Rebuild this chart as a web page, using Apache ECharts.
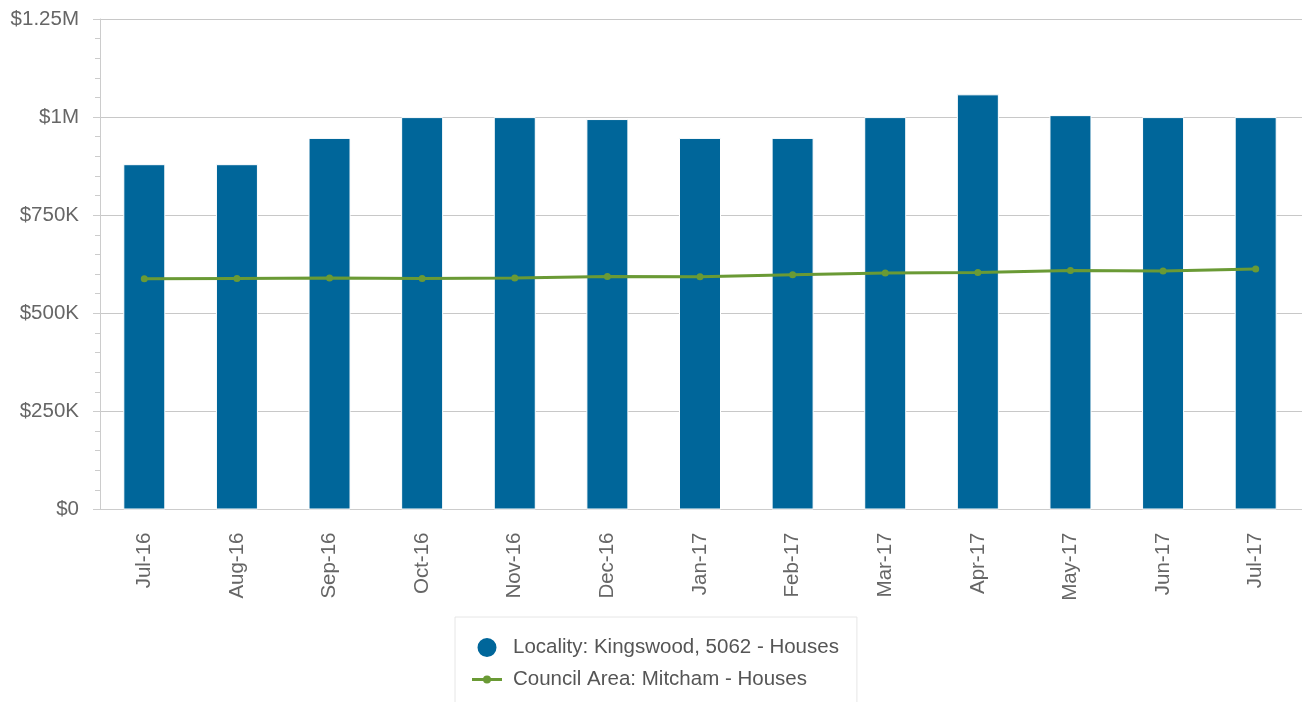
<!DOCTYPE html>
<html>
<head>
<meta charset="utf-8">
<script src="https://cdn.jsdelivr.net/npm/echarts@6/dist/echarts.min.js"></script>
<style>
  html, body { margin: 0; padding: 0; background: #fff; }
  #chart { width: 1302px; height: 702px; }
</style>
</head>
<body>
<div id="chart"></div>
<script>
  // monthly median price data
  var months = ['Jul-16', 'Aug-16', 'Sep-16', 'Oct-16', 'Nov-16', 'Dec-16', 'Jan-17',
    'Feb-17', 'Mar-17', 'Apr-17', 'May-17', 'Jun-17', 'Jul-17']
  var localityPrices = [880000, 880000, 947000, 1000000, 1000000, 995000, 947000,
    947000, 1000000, 1058000, 1005000, 1000000, 1000000]
  var councilPrices = [588000, 589000, 590000, 589000, 590000, 594000, 593000,
    598000, 603000, 604000, 609000, 608000, 613000]
  var localityName = 'Locality: Kingswood, 5062 - Houses'
  var councilName = 'Council Area: Mitcham - Houses'

  var font = 'Liberation Sans, Arial, sans-serif'
  // line with a dot in the middle, for the legend
  var lineIcon = 'path://M0,2.5h12v3h-12z M18,2.5h12v3h-12z M11,4a4,4 0 1 1 8,0a4,4 0 1 1 -8,0z'

  function money (v) {
    if (v === 0) return '$0'
    if (v >= 1000000) return '$' + (v / 1000000) + 'M'
    return '$' + (v / 1000) + 'K'
  }

  var myChart = echarts.init(document.getElementById('chart'))
  myChart.setOption({
    animation: false,
    textStyle: { fontFamily: font },
    grid: { left: 98, top: 19, width: 1207, bottom: 192.5 },
    legend: {
      orient: 'vertical',
      left: 455,
      top: 617,
      height: 60,
      padding: [19, 18, 19, 17],
      borderColor: '#e6e6e6',
      borderWidth: 1,
      itemWidth: 30,
      itemHeight: 21,
      itemGap: 10,
      textStyle: { fontSize: 20.5, color: '#555', fontFamily: font, padding: [0, 0, 0, 6] },
      data: [
        { name: localityName, icon: 'circle' },
        { name: councilName, icon: lineIcon }
      ]
    },
    xAxis: {
      type: 'category',
      data: months,
      axisLine: { lineStyle: { color: '#ccc' } },
      axisTick: { alignWithLabel: true, length: 10, lineStyle: { color: '#ccd6eb' } },
      axisLabel: { rotate: 90, margin: 23, fontSize: 20.5, color: '#666', fontFamily: font }
    },
    yAxis: {
      type: 'value',
      min: 0,
      max: 1250000,
      interval: 250000,
      offset: -2,
      axisLine: { show: true, lineStyle: { color: '#ccc' } },
      axisTick: { show: true, length: 7, lineStyle: { color: '#ccc' } },
      minorTick: { show: true, splitNumber: 5, length: 5, lineStyle: { color: '#ccc' } },
      splitLine: { lineStyle: { color: '#c8c8c8' } },
      axisLabel: { formatter: money, margin: 21, fontSize: 20.5, color: '#666', fontFamily: font }
    },
    series: [
      {
        name: localityName,
        type: 'bar',
        data: localityPrices,
        barWidth: 42,
        itemStyle: { color: '#00669a', borderColor: '#fff', borderWidth: 1 }
      },
      {
        name: councilName,
        type: 'line',
        data: councilPrices,
        symbol: 'circle',
        symbolSize: 7,
        lineStyle: { color: '#6a9a35', width: 3 },
        itemStyle: { color: '#6a9a35' }
      }
    ]
  })
</script>
</body>
</html>
